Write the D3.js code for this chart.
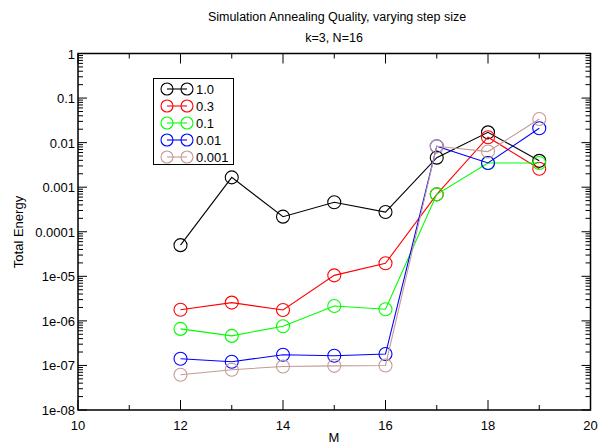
<!DOCTYPE html>
<html><head><meta charset="utf-8">
<script src="https://cdn.jsdelivr.net/npm/d3@7"></script>
<style>body{margin:0;background:#fff}svg{display:block}text{font-family:"Liberation Sans",Arial,sans-serif;fill:#000}</style>
</head><body><svg id="c" width="600" height="445"></svg>
<script>
const mValues = [12, 13, 14, 15, 16, 17, 18, 19];
const seriesNames = ["1.0", "0.3", "0.1", "0.01", "0.001"];
const seriesColors = ["#000000", "#ff0000", "#00ff00", "#0000ff", "#c49a94"];
const s1_0   = [5.0e-5, 1.66e-3, 2.18e-4, 4.6e-4, 2.77e-4, 4.6e-3, 0.017, 3.9e-3];
const s0_3   = [1.78e-6, 2.57e-6, 1.75e-6, 1.05e-5, 1.96e-5, 6.9e-4, 0.0132, 2.6e-3];
const s0_1   = [6.6e-7, 4.6e-7, 7.6e-7, 2.15e-6, 1.82e-6, 6.9e-4, 3.5e-3, 3.5e-3];
const s0_01  = [1.41e-7, 1.21e-7, 1.74e-7, 1.65e-7, 1.8e-7, 8.3e-3, 3.5e-3, 0.021];
const s0_001 = [6.2e-8, 8.0e-8, 9.5e-8, 9.8e-8, 1.0e-7, 8.3e-3, 6.3e-3, 0.034];
const xTicks = [10, 12, 14, 16, 18, 20];
const yTickLabels = ["1", "0.1", "0.01", "0.001", "0.0001", "1e-05", "1e-06", "1e-07", "1e-08"];
const yTickValues = [1, 0.1, 0.01, 0.001, 0.0001, 1e-5, 1e-6, 1e-7, 1e-8];

const allSeries = [s1_0, s0_3, s0_1, s0_01, s0_001];
const svg = d3.select("#c");
const L = 78, R = 590.5, T = 53.5, B = 410;
const x = d3.scaleLinear().domain([10, 20]).range([L, R]);
const y = d3.scaleLog().domain([1e-8, 1]).range([B, T]);

// minor ticks
const minorY = [];
for (let e = -8; e < 0; e++) for (let k = 2; k <= 9; k++) minorY.push(k * Math.pow(10, e));
const g = svg.append("g");
// y ticks left and right
[[L, 1], [R, -1]].forEach(([px, dir]) => {
  yTickValues.forEach(v => g.append("line").attr("x1", px).attr("x2", px + dir * 9).attr("y1", y(v)).attr("y2", y(v)).attr("stroke", "#000"));
  minorY.forEach(v => g.append("line").attr("x1", px).attr("x2", px + dir * 5).attr("y1", y(v)).attr("y2", y(v)).attr("stroke", "#000"));
});
// x ticks bottom and top
d3.range(10, 21).forEach(v => {
  const len = v % 2 === 0 ? 10 : 5;
  g.append("line").attr("x1", x(v)).attr("x2", x(v)).attr("y1", B).attr("y2", B - len).attr("stroke", "#000");
  g.append("line").attr("x1", x(v)).attr("x2", x(v)).attr("y1", T).attr("y2", T + len).attr("stroke", "#000");
});
g.append("rect").attr("x", L).attr("y", T).attr("width", R - L).attr("height", B - T)
  .attr("fill", "none").attr("stroke", "#000").attr("stroke-width", 1.5);

// tick labels
yTickValues.forEach((v, i) => g.append("text").attr("x", L - 3).attr("y", y(v) + 5)
  .attr("text-anchor", "end").attr("font-size", 13).text(yTickLabels[i]));
xTicks.forEach(v => g.append("text").attr("x", x(v)).attr("y", B + 20)
  .attr("text-anchor", "middle").attr("font-size", 13).text(v));

// titles
svg.append("text").attr("x", 337).attr("y", 21).attr("text-anchor", "middle").attr("font-size", 12.5)
  .text("Simulation Annealing Quality, varying step size");
svg.append("text").attr("x", 334).attr("y", 42).attr("text-anchor", "middle").attr("font-size", 12.5)
  .text("k=3, N=16");
svg.append("text").attr("x", 334).attr("y", 442).attr("text-anchor", "middle").attr("font-size", 13).text("M");
svg.append("text").attr("transform", "translate(23,232) rotate(-90)").attr("text-anchor", "middle")
  .attr("font-size", 13).text("Total Energy");

// series
const line = d3.line().x((d, i) => x(mValues[i])).y(d => y(d));
allSeries.forEach((s, si) => {
  const sg = svg.append("g");
  sg.append("path").datum(s).attr("d", line).attr("fill", "none").attr("stroke", seriesColors[si]).attr("stroke-width", 1.1);
  sg.selectAll("circle").data(s).join("circle").attr("cx", (d, i) => x(mValues[i])).attr("cy", d => y(d))
    .attr("r", 6.5).attr("fill", "none").attr("stroke", seriesColors[si]).attr("stroke-width", 1.1);
});

// legend
const lg = svg.append("g");
lg.append("rect").attr("x", 153.5).attr("y", 78.5).attr("width", 80).attr("height", 86)
  .attr("fill", "#fff").attr("stroke", "#000").attr("stroke-width", 1);
seriesNames.forEach((n, i) => {
  const yy = 89 + i * 17;
  lg.append("line").attr("x1", 167).attr("x2", 187).attr("y1", yy).attr("y2", yy).attr("stroke", seriesColors[i]).attr("stroke-width", 1.1);
  [167, 187].forEach(cx => lg.append("circle").attr("cx", cx).attr("cy", yy).attr("r", 6).attr("fill", "none")
    .attr("stroke", seriesColors[i]).attr("stroke-width", 1.1));
  lg.append("text").attr("x", 196).attr("y", yy + 5).attr("font-size", 13).text(n);
});
</script></body></html>
